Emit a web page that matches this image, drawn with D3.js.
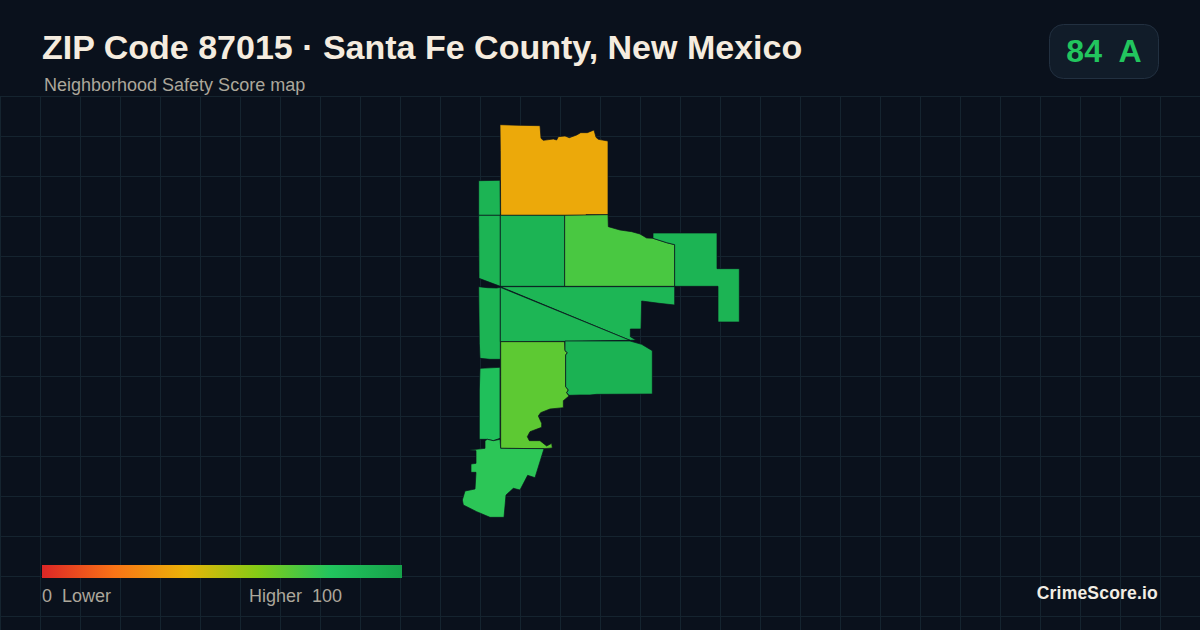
<!DOCTYPE html>
<html><head><meta charset="utf-8">
<script src="https://cdn.jsdelivr.net/npm/d3@7/dist/d3.min.js"></script>
<style>html,body{margin:0;padding:0;background:#0a111c}svg{display:block}text{white-space:pre;font-family:"Liberation Sans",Arial,sans-serif}</style>
</head><body><svg id="c" width="1200" height="630"></svg>
<script>
const titleText = "ZIP Code 87015 · Santa Fe County, New Mexico";
const subtitleText = "Neighborhood Safety Score map";
const badgeScore = 84, badgeGrade = "A";
const legendLow = "0  Lower", legendHigh = "Higher  100", brand = "CrimeScore.io";
const scoreStops = [0, 20, 40, 60, 80, 100];
const scoreColors = ["#dc2626", "#f97316", "#eab308", "#84cc16", "#22c55e", "#16a34a"];

// Zone outlines in map units
const zoneNames = ["north","westA","westB","westC","westD","center","northeast","east","band","wedge","mid","southeast","south"];
const zoneScores = [37, 90, 90, 90, 83, 90, 72, 90, 89, 89, 68, 91, 78];
const zoneRings = [
 [[150,44],[207,46],[270,47],[273,85],[280,91],[310,87],[320,90],[325,80],[345,78],[358,83],[380,75],[392,68],[412,68],[432,60],[438,82],[445,88],[474,93],[474,314],[408,314],[408,316],[315,316],[152,316],[151,122]],
 [[86,212],[150,211],[151,316],[86,316]],
 [[86,316],[151,316],[151,529],[87,505]],
 [[86,530],[112,533],[140,534],[151,532],[151,748],[120,748],[90,745],[88,700]],
 [[90,775],[150,772],[150,985],[130,992],[112,988],[88,988],[88,840]],
 [[151,316],[344,316],[344,529],[151,529]],
 [[344,316],[474,314],[475,350],[510,360],[545,365],[570,372],[590,384],[610,385],[650,398],[674,404],[674,529],[344,529]],
 [[609,369],[801,369],[801,476],[868,476],[868,636],[804,636],[804,529],[674,529],[674,404],[650,398],[609,385]],
 [[151,530],[674,530],[674,585],[628,580],[605,577],[575,573],[573,657],[541,657],[541,680],[558,690],[540,691]],
 [[151,532],[540,691],[344,694],[151,695]],
 [[152,695],[344,695],[345,722],[352,728],[347,735],[347,830],[355,840],[350,848],[357,858],[340,872],[340,893],[300,897],[272,908],[265,918],[275,940],[275,952],[240,965],[232,980],[238,992],[270,992],[290,1008],[305,1000],[307,1014],[282,1016],[152,1015]],
 [[345,693],[540,693],[575,703],[607,722],[607,852],[440,853],[420,855],[390,855],[357,856],[350,848],[355,840],[347,830],[347,735],[352,728],[345,722]],
 [[105,992],[112,988],[130,992],[150,988],[152,1015],[282,1016],[255,1103],[233,1096],[210,1140],[190,1135],[168,1155],[162,1222],[120,1222],[80,1205],[40,1185],[37,1170],[45,1143],[75,1137],[78,1087],[63,1087],[63,1062],[78,1060],[78,1022],[58,1020],[105,1015]]
];

const W = 1200, H = 630;
const svg = d3.select("#c");
const defs = svg.append("defs");
const color = d3.scaleLinear().domain(scoreStops).range(scoreColors);

// background and grid
svg.append("rect").attr("width", W).attr("height", H).attr("fill", "#0a111c");
const gridX = d3.range(0, W + 1, 40), gridY = d3.range(96, H + 1, 40);
const grid = svg.append("g").attr("stroke", "#15242f").attr("stroke-width", 1);
grid.selectAll("line.v").data(gridX).join("line").attr("class","v")
  .attr("x1", d => d + .5).attr("x2", d => d + .5).attr("y1", 96).attr("y2", H);
grid.selectAll("line.h").data(gridY).join("line").attr("class","h")
  .attr("x1", 0).attr("x2", W).attr("y1", d => d + .5).attr("y2", d => d + .5);

// map
const projection = d3.geoIdentity().scale(1/3).translate([450, 110]);
const path = d3.geoPath(projection);
const features = zoneRings.map((r, i) => ({
  type: "Feature", properties: {name: zoneNames[i], score: zoneScores[i]},
  geometry: {type: "Polygon", coordinates: [[...r, r[0]]]}
}));
svg.append("g").selectAll("path").data(features).join("path")
  .attr("d", path)
  .attr("fill", d => color(d.properties.score))
  .attr("stroke", "#0a111c").attr("stroke-opacity", .85).attr("stroke-width", .8).attr("stroke-linejoin", "round");

// header
svg.append("text").attr("x", 42).attr("y", 59).attr("font-size", 34).attr("font-weight", 700)
  .attr("fill", "#f5ecdf").text(titleText);
svg.append("text").attr("x", 44).attr("y", 91).attr("font-size", 18).attr("fill", "#aca79b").text(subtitleText);

// badge
svg.append("rect").attr("x", 1049.5).attr("y", 24.5).attr("width", 109).attr("height", 54).attr("rx", 14)
  .attr("fill", "#111c29").attr("stroke", "#223040");
svg.append("text").attr("x", 1104).attr("y", 62).attr("text-anchor", "middle").attr("font-size", 32).attr("font-weight", 700)
  .attr("fill", "#22c55e").text(`${badgeScore}  ${badgeGrade}`);

// legend
const legendScale = d3.scaleLinear().domain([0, 100]).range([42, 402]);
const grad = defs.append("linearGradient").attr("id", "lg");
grad.selectAll("stop").data(scoreStops).join("stop")
  .attr("offset", d => d + "%").attr("stop-color", d => color(d));
svg.append("rect").attr("x", legendScale(0)).attr("y", 565).attr("width", legendScale(100) - legendScale(0)).attr("height", 13).attr("fill", "url(#lg)");
svg.append("text").attr("x", 42).attr("y", 602).attr("font-size", 18).attr("fill", "#aca79b").text(legendLow);
svg.append("text").attr("x", 249).attr("y", 602).attr("font-size", 18).attr("fill", "#aca79b").text(legendHigh);
svg.append("text").attr("x", 1158).attr("y", 599).attr("text-anchor", "end").attr("font-size", 17.5).attr("letter-spacing", .2).attr("font-weight", 700)
  .attr("fill", "#f2ede4").text(brand);
</script></body></html>
